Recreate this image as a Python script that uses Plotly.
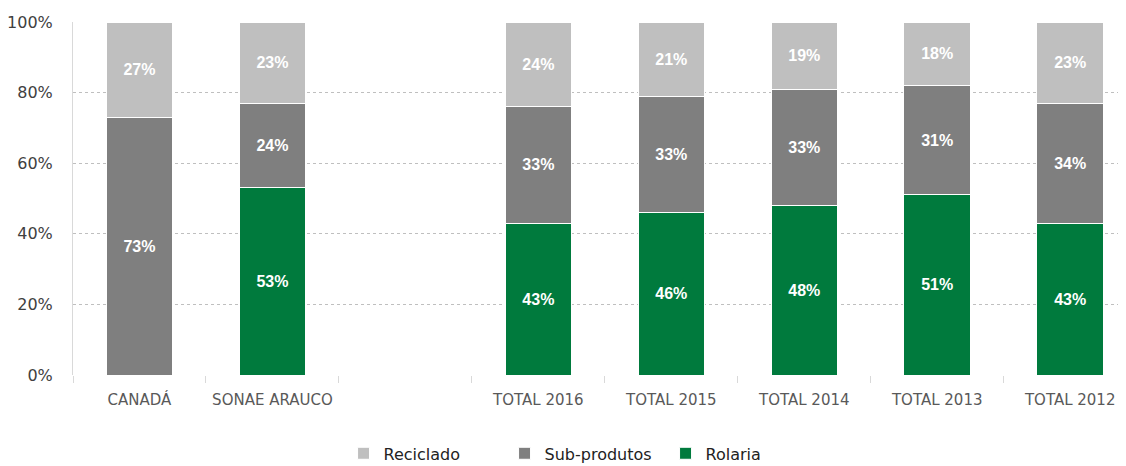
import plotly.graph_objects as go

categories = ["CANADÁ", "SONAE ARAUCO", " ", "TOTAL 2016", "TOTAL 2015",
              "TOTAL 2014", "TOTAL 2013", "TOTAL 2012"]

# shares in %
rolaria = [None, 53, None, 43, 46, 48, 51, 43]
sub_produtos = [73, 24, None, 33, 33, 33, 31, 34]
reciclado = [27, 23, None, 24, 21, 19, 18, 23]

y_ticks = [0, 20, 40, 60, 80, 100]

series = [
    ("Rolaria", rolaria, "#007A3D"),
    ("Sub-produtos", sub_produtos, "#7F7F7F"),
    ("Reciclado", reciclado, "#BFBFBF"),
]

fig = go.Figure()
for name, vals, color in series:
    fig.add_bar(
        x=categories,
        y=vals,
        name=name,
        marker=dict(color=color, line=dict(color="white", width=1)),
        text=[f"{v}%" if v else "" for v in vals],
        textposition="inside",
        insidetextanchor="middle",
        textangle=0,
        textfont=dict(family="Liberation Sans", size=16, color="white", weight="bold"),
        hoverinfo="skip",
    )

# page body adds an 8px offset, so margins are trimmed to compensate
fig.update_layout(
    barmode="stack",
    bargap=0.5,
    width=1126,
    height=466,
    margin=dict(l=65, r=0, t=14, b=99, autoexpand=False),
    plot_bgcolor="white",
    paper_bgcolor="white",
    font=dict(family="DejaVu Sans", size=15, color="#404040"),
    legend=dict(
        orientation="h",
        traceorder="reversed",
        x=0.255,
        xanchor="left",
        y=-0.222,
        yanchor="middle",
        entrywidth=116,
        entrywidthmode="pixels",
        font=dict(family="DejaVu Sans", size=16, color="#222222"),
    ),
)

fig.update_xaxes(
    type="category",
    range=[-0.5, 7.48],
    automargin=False,
    ticks="outside",
    tickson="boundaries",
    ticklen=7,
    tickcolor="#D9D9D9",
    ticklabelstandoff=14,
    tickfont=dict(family="DejaVu Sans", size=15, color="#595959"),
    showline=False,
    showgrid=False,
)

fig.update_yaxes(
    range=[0, 100],
    automargin=False,
    tickvals=y_ticks,
    ticktext=[f"{t}%" for t in y_ticks],
    showgrid=True,
    gridcolor="#BFBFBF",
    griddash="dot",
    gridwidth=1,
    zeroline=False,
    showline=True,
    linecolor="#D9D9D9",
    ticks="",
    ticklabelstandoff=16,
    tickfont=dict(family="DejaVu Sans", size=16, color="#404040"),
)

fig.write_html("out.html")
